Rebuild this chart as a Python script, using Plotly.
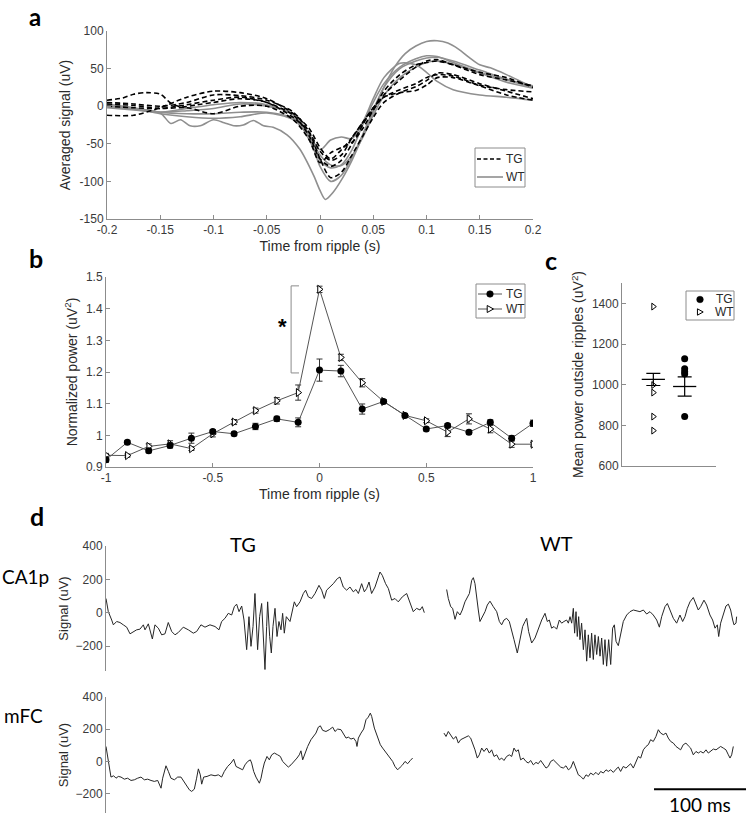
import plotly.graph_objects as go

# ============================ DATA ============================
# ---- panel a : averaged signal around ripples (uV) ----
a_xticks = [-0.2, -0.15, -0.1, -0.05, 0, 0.05, 0.1, 0.15, 0.2]
a_xticklabels = ["-0.2", "-0.15", "-0.1", "-0.05", "0", "0.05", "0.1", "0.15", "0.2"]
a_yticks = [-150, -100, -50, 0, 50, 100]
a_yticklabels = ["-150", "-100", "-50", "0", "50", "100"]

a_grid = [-0.2, -0.175, -0.15, -0.125, -0.1, -0.075, -0.05, -0.025, -0.01, 0.0, 0.01, 0.02,
          0.03, 0.04, 0.05, 0.06, 0.075, 0.09, 0.1, 0.11, 0.125, 0.15, 0.175, 0.2]

wt1_t = [-0.2, -0.175, -0.15, -0.14, -0.131, -0.122, -0.1125, -0.1, -0.09, -0.081, -0.072, -0.0625,
         -0.053, -0.044, -0.031, -0.019, -0.006, 0.0, 0.005, 0.012, 0.021, 0.03, 0.04, 0.05, 0.06,
         0.07, 0.08, 0.09, 0.1, 0.11, 0.12, 0.13, 0.14, 0.15, 0.16, 0.175, 0.19, 0.2]
wt1_v = [0, -3, -9, -23, -18, -26, -26, -18, -22, -26, -25, -19,
         -26, -28, -38, -57, -92, -112, -124, -115, -96, -72, -40, -8, 25,
         52, 70, 80, 86, 87, 84, 76, 65, 55, 51, 42, 32, 25]
wt2_v = [1, -3, -10, -14, -16, -14, -9, -18, -42, -80, -100, -92, -68, -38, -5, 25, 50, 60, 64, 65, 60, 48, 36, 27]
wt3_v = [-2, -5, -8, -6, -3, 3, 0, -10, -38, -58, -45, -41, -43, -22, 10, 38, 57, 55, 45, 33, 22, 15, 12, 8]
wt4_v = [0, -4, -8, -3, 2, 5, 2, -12, -45, -72, -82, -78, -58, -25, 5, 30, 52, 63, 67, 66, 58, 45, 35, 25]
wt5_v = [3, -2, -8, -10, -10, -8, -8, -16, -40, -65, -78, -79, -66, -42, -12, 14, 38, 52, 58, 60, 56, 44, 32, 24]

tg1_t = [-0.2, -0.185, -0.175, -0.1625, -0.15, -0.14, -0.13, -0.115, -0.1, -0.075, -0.05, -0.025,
         -0.01, 0.0, 0.01, 0.02, 0.03, 0.04, 0.05, 0.06, 0.075, 0.09, 0.1, 0.11, 0.125, 0.15, 0.175, 0.2]
tg1_v = [8, 11, 16, 18, 16, 4, -1, 2, 5, 10, 5, -15,
         -35, -60, -72, -65, -42, -22, -2, 12, 22, 30, 38, 42, 40, 28, 22, 19]
tg2_v = [-12, -12, -2, 12, 20, 18, 10, -10, -30, -55, -70, -58, -42, -22, -5, 15, 35, 52, 60, 62, 55, 42, 35, 27]
tg3_v = [5, 3, 0, 5, 15, 14, 8, -8, -35, -70, -95, -88, -65, -40, -15, 5, 18, 26, 34, 44, 42, 30, 20, 10]
tg4_v = [0, -2, -3, 2, 8, 12, 5, -12, -40, -70, -80, -72, -50, -25, -2, 12, 18, 21, 28, 38, 38, 27, 15, 8]
tg5_v = [3, 1, -3, -2, -10, 0, 0, -18, -45, -75, -62, -55, -48, -30, -5, 20, 42, 55, 58, 60, 55, 45, 38, 25]

# ---- panel b : normalized power ----
b_time = [-1.0, -0.9, -0.8, -0.7, -0.6, -0.5, -0.4, -0.3, -0.2, -0.1, 0.0,
          0.1, 0.2, 0.3, 0.4, 0.5, 0.6, 0.7, 0.8, 0.9, 1.0]
b_tg = [0.923, 0.978, 0.951, 0.968, 0.991, 1.012, 1.005, 1.028, 1.052, 1.041, 1.206,
        1.203, 1.083, 1.107, 1.063, 1.020, 1.031, 1.010, 1.041, 0.991, 1.038]
b_tg_err = [0.008, 0.006, 0.006, 0.008, 0.016, 0.006, 0.006, 0.010, 0.008, 0.014, 0.035,
            0.018, 0.016, 0.006, 0.006, 0.006, 0.006, 0.006, 0.008, 0.008, 0.010]
b_wt = [0.937, 0.936, 0.965, 0.973, 0.958, 1.005, 1.042, 1.078, 1.109, 1.135, 1.461,
        1.246, 1.166, 1.107, 1.063, 1.046, 1.010, 1.052, 1.020, 0.972, 0.972]
b_wt_err = [0.006, 0.005, 0.008, 0.010, 0.006, 0.010, 0.008, 0.008, 0.010, 0.024, 0.010,
            0.010, 0.013, 0.006, 0.006, 0.006, 0.014, 0.016, 0.012, 0.010, 0.006]
b_xticks = [-1, -0.5, 0, 0.5, 1]
b_xticklabels = ["-1", "-0.5", "0", "0.5", "1"]
b_yticks = [0.9, 1.0, 1.1, 1.2, 1.3, 1.4, 1.5]
b_yticklabels = ["0.9", "1", "1.1", "1.2", "1.3", "1.4", "1.5"]
b_sig_span = [1.197, 1.472]      # significance bracket (power values)

# ---- panel c : mean power outside ripples ----
c_groups = ["WT", "TG"]
c_pos = [1, 2]
c_wt_values = [1384, 998, 961, 843, 774]
c_tg_values = [1128, 1078, 1063, 1052, 843]
c_means = [1026, 991]
c_sems = [30, 47]
c_yticks = [600, 800, 1000, 1200, 1400]

# ---- panel d : example raw traces (time in ms, signal in uV) ----
d_yticks = [-200, 0, 200, 400]

tg_ca1p_t = [0, 2.5, 6.2, 8.0, 11.6, 15.2, 18.8, 22.5, 26.1, 29.7, 33.3, 36.9, 40.6, 42.4, 46.0, 50.4,
             53.2, 56.9, 60.5, 64.1, 67.7, 71.4, 75.0, 78.6, 84.0, 89.5, 94.9, 98.5, 103.2, 107.6, 113.0,
             118.5, 122.8, 125.7, 129.3, 132.9, 136.6, 139.5, 142.0, 144.6, 147.5, 150.0, 152.9, 155.4,
             157.6, 159.8, 161.9, 164.8, 167.0, 169.2, 171.0, 172.8, 174.6, 175.7, 177.9, 179.7, 181.5,
             183.7, 185.9, 188.0, 190.2, 192.0, 193.8, 196.0, 200.0, 201.8, 204.7, 207.2, 210.9, 214.5,
             217.0, 219.9, 223.5, 227.2, 231.5, 234.4, 237.3, 239.8, 243.5, 247.1, 251.4, 254.3, 257.9,
             261.6, 265.2, 268.8, 271.7, 274.3, 277.9, 280.8, 283.3, 285.9, 288.7, 292.4, 297.8, 300.3,
             303.9, 306.9, 310.5, 314.1, 317.7, 322.1, 326.8, 330.4, 334.0, 337.6, 341.3, 343.8, 346.0]
tg_ca1p_v = [85, 6, -44, -73, -53, -59, -73, -87, -127, -113, -103, -99, -73, -103, -67, -158,
             -73, -93, -133, -127, -59, -113, -133, -119, -87, -103, -123, -113, -73, -87, -73,
             -83, -103, -53, -34, -4, -14, 36, 51, 6, 40, -44, -222, -24,
             -202, -83, 115, -222, -24, 55, -162, -341, -83, 65, -143, -242, -83,
             26, -143, -53, -103, -4, -123, -24, -53, -14, 65, 36, 65, 115,
             135, 95, 85, 115, 164, 135, 85, 135, 154, 174, 204, 214, 154,
             135, 154, 125, 139, 115, 174, 125, 145, 184, 115, 154, 244, 224,
             174, 145, 75, 85, 65, 95, 115, 65, 6, 26, 16, 36, 0]

wt_ca1p_t = [18.1, 19.9, 22.5, 24.6, 27.2, 29.7, 32.6, 35.1, 38.0, 40.6, 42.8, 45.3, 47.1, 48.9, 50.7,
             52.5, 54.3, 57.2, 59.8, 62.3, 65.2, 68.8, 72.5, 75.4, 77.9, 80.4, 83.3, 86.2, 88.8, 91.3,
             94.9, 97.8, 100.7, 103.3, 105.1, 107.2, 110.5, 114.1, 117.7, 121.4, 125.0, 127.5, 129.7,
             132.2, 134.8, 137.7, 140.6, 143.1, 145.6, 148.5, 150.4, 152.2, 154.0, 155.8, 157.2, 158.7,
             160.1, 161.6, 163.0, 164.8, 166.7, 168.5, 170.3, 172.1, 173.9, 175.7, 177.5, 179.3, 181.2,
             183.0, 184.8, 186.6, 188.4, 190.2, 192.0, 194.2, 196.4, 198.5, 200.4, 202.2, 204.7, 207.2,
             210.1, 213.8, 217.4, 221.0, 224.6, 228.2, 231.9, 235.5, 239.1, 242.7, 246.4, 249.3, 251.8,
             255.4, 258.0, 260.9, 264.5, 268.1, 271.7, 274.6, 277.2, 279.7, 282.6, 286.2, 289.1, 291.6,
             294.2, 296.4, 297.8, 300.7, 304.3, 307.2, 309.8, 312.3, 313.8, 315.9, 318.8, 321.7, 324.3,
             326.8, 329.0, 330.4, 332.6, 333.3]
wt_ca1p_v = [139, 85, 36, 26, -40, 6, -14, 16, 65, 95, 115, 194, 210, 174, 85,
             16, -53, -24, 6, 46, 69, 36, 6, -53, -73, -44, -34, -53, -103, -162,
             -242, -162, -83, -53, -34, -113, -182, -152, -93, -44, -4, -53, -44,
             -93, -83, -99, -44, -63, -53, -44, -63, -24, -63, 26, -123, 6,
             -143, -24, -162, -63, -222, -103, -291, -133, -271, -123, -281, -133, -251,
             -143, -261, -152, -311, -162, -321, -162, -311, -93, -73, -172, -198, -123,
             -53, -14, 6, 16, 10, 6, 16, -8, 6, -14, -44, -87, -24,
             36, 55, 16, -34, -63, -14, -53, -24, 26, 65, 91, 46, 16,
             36, 55, 75, 46, -14, -44, -93, -73, -143, -63, -14, 40, 51,
             16, -44, -73, -63, -24]

tg_mfc_t = [0, 1.8, 3.6, 5.4, 8.3, 10.9, 13.4, 16.3, 19.9, 23.5, 27.2, 30.8, 34.4, 38.0, 41.7, 45.3,
            48.9, 52.5, 56.2, 59.8, 61.6, 65.2, 67.8, 70.6, 74.3, 77.9, 81.5, 84.4, 87.0, 90.6, 93.1,
            96.0, 98.5, 100.4, 102.5, 104.0, 106.2, 109.8, 114.1, 118.5, 122.1, 125.7, 128.6, 132.2,
            135.9, 138.8, 141.3, 144.9, 148.5, 151.1, 154.0, 156.9, 158.3, 160.5, 163.0, 166.7, 168.5,
            170.3, 172.1, 175.0, 177.5, 180.1, 183.0, 186.6, 189.5, 192.0, 195.6, 198.2, 201.1, 204.7,
            207.6, 210.1, 211.9, 213.8, 216.3, 219.2, 222.8, 225.7, 228.2, 230.8, 233.0, 235.5, 239.1,
            242.7, 246.4, 248.9, 251.8, 255.4, 258.3, 260.9, 263.4, 266.3, 269.2, 271.7, 272.8, 274.3,
            277.2, 280.1, 282.6, 285.1, 287.3, 288.8, 291.7, 295.3, 298.2, 300.7, 303.3, 306.1, 309.0,
            311.6, 314.1, 317.0, 319.9, 322.4, 325.0, 327.9, 330.8, 333.3]
tg_mfc_v = [93, 31, -52, -97, -89, -104, -93, -97, -110, -104, -118, -114, -104, -97, -114, -110,
            -118, -124, -118, -166, -104, -27, -62, -104, -114, -97, -97, -124, -145, -176, -186,
            -172, -104, -46, -83, -141, -97, -93, -83, -89, -83, -97, -62, -31,
            -10, 14, -31, -41, -52, -21, 0, 10, -10, -62, -97, -135, -104,
            -52, -10, 31, 10, 41, 52, 41, 31, 0, -21, -35, -21, 0,
            21, 41, 66, 10, 52, 93, 135, 155, 176, 213, 221, 193, 186,
            197, 213, 186, 201, 197, 166, 145, 151, 139, 145, 124, 93, 145,
            176, 201, 259, 275, 300, 279, 207, 155, 104, 83, 62, 41, 21,
            0, -31, -52, -35, -21, 0, -14, 6, 21]

wt_mfc_t = [15.2, 17.4, 19.9, 22.5, 25.4, 28.3, 30.8, 33.3, 36.2, 39.1, 41.7, 44.2, 46.4, 48.9, 51.4,
            53.6, 56.2, 58.7, 61.6, 64.5, 67.0, 69.6, 72.5, 75.4, 77.9, 80.4, 83.3, 86.2, 88.8, 91.3,
            93.5, 96.0, 98.5, 101.4, 104.3, 106.9, 109.4, 112.3, 115.2, 117.7, 120.3, 123.2, 126.1,
            128.6, 131.2, 134.1, 137.0, 139.5, 142.0, 144.9, 147.8, 150.4, 152.9, 155.8, 158.7, 161.2,
            163.8, 166.7, 169.6, 172.1, 174.6, 177.5, 180.4, 183.0, 185.5, 188.4, 191.3, 193.8, 196.4,
            199.3, 202.2, 204.7, 207.2, 210.1, 213.0, 215.6, 218.1, 221.0, 223.9, 226.4, 229.0, 231.9,
            234.8, 237.3, 239.8, 242.7, 245.6, 248.2, 250.7, 253.6, 256.5, 259.0, 261.6, 264.5, 267.4,
            269.9, 272.4, 275.3, 278.2, 280.8, 283.3, 286.2, 289.1, 291.6, 294.2, 297.1, 300.0, 302.5,
            305.1, 308.0, 310.9, 313.4, 315.9, 318.8, 321.7, 324.3, 326.1, 327.9, 329.7]
wt_mfc_v = [176, 155, 186, 166, 139, 155, 114, 135, 145, 155, 159, 145, 114, 72, 21,
            41, 83, 62, 83, 52, 72, 31, 41, 10, 21, 6, 31, 41, 31, 83,
            62, 72, 10, 21, 0, -10, 6, -21, -6, -14, 6, -21, -41,
            -31, 0, 10, -6, -21, -35, -41, -27, -52, -41, 0, -48, -83,
            -93, -110, -83, -93, -72, -83, -68, -83, -62, -72, -52, -62, -52,
            -68, -48, -35, -62, -31, -41, -27, -14, -41, 0, 31, 21, 72,
            93, 104, 135, 124, 155, 197, 176, 166, 176, 145, 124, 114, 93,
            83, 72, 104, 114, 97, 83, 41, 62, 52, 62, 52, 72, 52,
            62, 77, 72, 83, 93, 83, 72, 41, 21, 41, 93]
scale_bar_ms = 100

# ============================ STYLE ============================
W, H = 748, 816
SANS = "Liberation Sans, Arial, sans-serif"
CAL = "Lato, Carlito, sans-serif"
AX = "#8c8c8c"
TICK = "#3a3a3a"
LBL = "#2a2a2a"
GRAYLINE = "#8f8f8f"


def fx(p):
    return p / W


def fy(p):
    return 1 - p / H


def axis(**kw):
    base = dict(showline=True, linecolor=AX, linewidth=1, ticks="inside", ticklen=4,
                tickcolor=AX, tickwidth=1, showgrid=False, zeroline=False, automargin=False,
                tickfont=dict(family=SANS, size=12, color=TICK),
                title_font=dict(family=SANS, size=14, color=LBL))
    base.update(kw)
    return base


def hidden(**kw):
    base = dict(visible=False, automargin=False, showgrid=False, zeroline=False)
    base.update(kw)
    return base


fig = go.Figure()

# ---- panel a traces ----
for v in [wt2_v, wt3_v, wt4_v, wt5_v]:
    fig.add_trace(go.Scatter(x=a_grid, y=v, mode="lines", line=dict(color=GRAYLINE, width=1.6, shape="spline", smoothing=0.8),
                             xaxis="x", yaxis="y", hoverinfo="skip"))
fig.add_trace(go.Scatter(x=wt1_t, y=wt1_v, mode="lines", line=dict(color=GRAYLINE, width=1.6, shape="spline", smoothing=0.8),
                         xaxis="x", yaxis="y", hoverinfo="skip"))
fig.add_trace(go.Scatter(x=tg1_t, y=tg1_v, mode="lines",
                         line=dict(color="black", width=1.6, dash="5px,3px", shape="spline", smoothing=0.8),
                         xaxis="x", yaxis="y", hoverinfo="skip"))
for v in [tg2_v, tg3_v, tg4_v, tg5_v]:
    fig.add_trace(go.Scatter(x=a_grid, y=v, mode="lines",
                             line=dict(color="black", width=1.6, dash="5px,3px", shape="spline", smoothing=0.8),
                             xaxis="x", yaxis="y", hoverinfo="skip"))

# ---- panel b traces ----
fig.add_trace(go.Scatter(x=b_time, y=b_wt, mode="lines+markers", xaxis="x2", yaxis="y2",
                         line=dict(color="#555555", width=1),
                         marker=dict(symbol="triangle-right", size=7, color="white",
                                     line=dict(color="black", width=1)),
                         error_y=dict(type="data", array=b_wt_err, color="#333333", thickness=1, width=3)))
fig.add_trace(go.Scatter(x=b_time, y=b_tg, mode="lines+markers", xaxis="x2", yaxis="y2",
                         line=dict(color="#555555", width=1),
                         marker=dict(symbol="circle", size=7, color="black"),
                         error_y=dict(type="data", array=b_tg_err, color="#333333", thickness=1, width=3)))

# ---- panel c traces ----
fig.add_trace(go.Scatter(x=[c_pos[0]] * len(c_wt_values), y=c_wt_values, mode="markers", xaxis="x3", yaxis="y3",
                         marker=dict(symbol="triangle-right", size=6, color="white", line=dict(color="black", width=1))))
fig.add_trace(go.Scatter(x=[c_pos[1]] * len(c_tg_values), y=c_tg_values, mode="markers", xaxis="x3", yaxis="y3",
                         marker=dict(symbol="circle", size=7, color="black")))
for p, m, s in zip(c_pos, c_means, c_sems):
    fig.add_trace(go.Scatter(x=[p - 0.37, p + 0.37], y=[m, m], mode="lines", xaxis="x3", yaxis="y3",
                             line=dict(color="black", width=1.3)))
    fig.add_trace(go.Scatter(x=[p], y=[m], mode="markers", xaxis="x3", yaxis="y3",
                             marker=dict(size=1, color="rgba(0,0,0,0)"),
                             error_y=dict(type="data", array=[s], color="black", thickness=1.2, width=7)))

# ---- panel d traces ----
TR = "#262626"
fig.add_trace(go.Scatter(x=tg_ca1p_t, y=tg_ca1p_v, mode="lines", xaxis="x4", yaxis="y4", line=dict(color=TR, width=1)))
fig.add_trace(go.Scatter(x=wt_ca1p_t, y=wt_ca1p_v, mode="lines", xaxis="x5", yaxis="y5", line=dict(color=TR, width=1)))
fig.add_trace(go.Scatter(x=tg_mfc_t, y=tg_mfc_v, mode="lines", xaxis="x6", yaxis="y6", line=dict(color=TR, width=1)))
fig.add_trace(go.Scatter(x=wt_mfc_t, y=wt_mfc_v, mode="lines", xaxis="x7", yaxis="y7", line=dict(color=TR, width=1)))

# ============================ LAYOUT ============================
d_top_dom = [fy(671), fy(546)]
d_bot_dom = [fy(813), fy(697)]
tg_dom = [fx(106), fx(430)]
wt_dom = [fx(430), 1.0]
tg_rng = [0, (430 - 106) / 0.92]
wt_rng = [0, (748 - 430) / 0.92]

fig.update_layout(
    template="none",
    width=W, height=H, margin=dict(l=0, r=0, t=0, b=0, pad=0, autoexpand=False),
    paper_bgcolor="white", plot_bgcolor="white", showlegend=False,
    xaxis=axis(domain=[fx(107), fx(533)], range=[-0.2, 0.2], anchor="y",
               tickvals=a_xticks, ticktext=a_xticklabels,
               title=dict(text="Time from ripple (s)", standoff=4)),
    yaxis=axis(domain=[fy(219), fy(31)], range=[-150, 100], anchor="x",
               tickvals=a_yticks, ticktext=a_yticklabels,
               title=dict(text="Averaged signal (uV)", standoff=5)),
    xaxis2=axis(domain=[fx(106), fx(533)], range=[-1, 1], anchor="y2",
                tickvals=b_xticks, ticktext=b_xticklabels,
                title=dict(text="Time from ripple (s)", standoff=4)),
    yaxis2=axis(domain=[fy(467), fy(277)], range=[0.9, 1.5], anchor="x2",
                tickvals=b_yticks, ticktext=b_yticklabels,
                title=dict(text="Normalized power (uV<sup>2</sup>)", standoff=5)),
    xaxis3=axis(domain=[fx(622), fx(716)], range=[0, 3], anchor="y3",
                ticks="", showticklabels=False),
    yaxis3=axis(domain=[fy(466), fy(283)], range=[600, 1500], anchor="x3",
                tickvals=c_yticks,
                title=dict(text="Mean power outside ripples (uV<sup>2</sup>)", standoff=4)),
    xaxis4=hidden(domain=tg_dom, range=tg_rng, anchor="y4"),
    yaxis4=axis(domain=d_top_dom, range=[-350, 400], anchor="x4", tickvals=d_yticks,
                title=dict(text="Signal (uV)", standoff=4, font=dict(size=13))),
    xaxis5=hidden(domain=wt_dom, range=wt_rng, anchor="y5"),
    yaxis5=hidden(domain=d_top_dom, range=[-350, 400], anchor="x5"),
    xaxis6=hidden(domain=tg_dom, range=tg_rng, anchor="y6"),
    yaxis6=axis(domain=d_bot_dom, range=[-320, 400], anchor="x6", tickvals=d_yticks,
                title=dict(text="Signal (uV)", standoff=4, font=dict(size=13))),
    xaxis7=hidden(domain=wt_dom, range=wt_rng, anchor="y7"),
    yaxis7=hidden(domain=d_bot_dom, range=[-320, 400], anchor="x7"),
)

shapes = []
annotations = []


def text(t, xp, yp, size, family=SANS, bold=False, color=LBL, xanchor="center", yanchor="middle"):
    annotations.append(dict(text=("<b>%s</b>" % t) if bold else t, x=fx(xp), y=fy(yp), xref="paper", yref="paper",
                            showarrow=False, xanchor=xanchor, yanchor=yanchor,
                            font=dict(family=family, size=size, color=color)))


def rect(x0, y0, x1, y1):
    shapes.append(dict(type="rect", xref="paper", yref="paper", x0=fx(x0), x1=fx(x1), y0=fy(y1), y1=fy(y0),
                       line=dict(color=AX, width=1), fillcolor="white"))


def hline(x0, x1, y, color, width=1, dash="solid"):
    shapes.append(dict(type="line", xref="paper", yref="paper", x0=fx(x0), x1=fx(x1), y0=fy(y), y1=fy(y),
                       line=dict(color=color, width=width, dash=dash)))


def dot(cx, cy, r):
    shapes.append(dict(type="circle", xref="paper", yref="paper", x0=fx(cx - r), x1=fx(cx + r),
                       y0=fy(cy + r), y1=fy(cy - r), fillcolor="black", line=dict(color="black", width=0.5)))


def tri(cx, cy, r):
    path = "M %f,%f L %f,%f L %f,%f Z" % (fx(cx - r * 0.8), fy(cy - r), fx(cx - r * 0.8), fy(cy + r),
                                          fx(cx + r), fy(cy))
    shapes.append(dict(type="path", xref="paper", yref="paper", path=path, fillcolor="white",
                       line=dict(color="black", width=1)))


# legend a
rect(475, 148, 525, 187)
hline(477, 503, 159, "black", 1.6, "4px,2.5px")
hline(477, 503, 177, GRAYLINE, 1.6)
text("TG", 504, 159, 12, xanchor="left")
text("WT", 504, 177, 12, xanchor="left")

# legend b
rect(476, 284, 525, 318)
hline(478, 502, 294, "#555555", 1)
hline(478, 502, 309, "#555555", 1)
dot(490, 294, 3.3)
tri(490, 309, 3.5)
text("TG", 504, 294, 12, xanchor="left")
text("WT", 504, 309, 12, xanchor="left")

# legend c
rect(686, 291, 734, 320)
dot(700, 299.5, 3.3)
tri(700, 312, 3.2)
text("TG", 714, 299.5, 12, xanchor="left")
text("WT", 713, 312, 12, xanchor="left")

# significance bracket in panel b
br_x_in, br_x_out = -0.096, -0.133
shapes.append(dict(type="path", xref="x2", yref="y2",
                   path="M %f,%f L %f,%f L %f,%f L %f,%f" % (br_x_in, b_sig_span[1], br_x_out, b_sig_span[1],
                                                              br_x_out, b_sig_span[0], br_x_in, b_sig_span[0]),
                   line=dict(color=AX, width=1)))
annotations.append(dict(text="<b>*</b>", x=-0.171, y=1.358, xref="x2", yref="y2", showarrow=False,
                        yshift=-5, font=dict(family=SANS, size=22, color="black")))

# scale bar
bar_start = 243.5
shapes.append(dict(type="line", xref="x7", yref="y7", x0=bar_start, x1=bar_start + scale_bar_ms,
                   y0=-172, y1=-172, line=dict(color="black", width=2)))
annotations.append(dict(text="%d ms" % scale_bar_ms, x=bar_start + scale_bar_ms / 2, y=-172, xref="x7", yref="y7",
                        showarrow=False, yanchor="top", yshift=-2,
                        font=dict(family=CAL, size=19, color="black")))

# panel letters and labels
text("a", 35, 0, 24, family=CAL, bold=True, color="black", yanchor="top")
text("b", 36, 258, 25, family=CAL, bold=True, color="black")
text("c", 551, 260, 25, family=CAL, bold=True, color="black")
text("d", 37, 516, 25, family=CAL, bold=True, color="black")
text("CA1p", 25, 576, 19, family=CAL, color="black")
text("mFC", 23, 715, 19, family=CAL, color="black")
text("TG", 243, 544, 20, family=CAL, color="black")
text("WT", 556, 543, 20, family=CAL, color="black")

fig.update_layout(shapes=shapes, annotations=annotations)
fig.write_html("out.html",
               config={"displayModeBar": False},
               post_script="document.body.style.margin='0';document.body.style.padding='0';"
                           "document.body.style.overflow='hidden';")
